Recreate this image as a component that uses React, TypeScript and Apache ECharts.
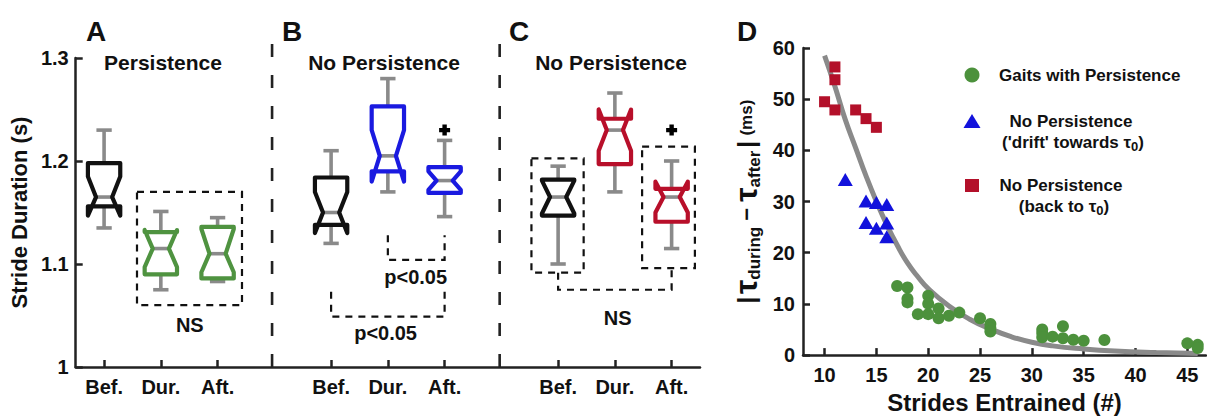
import React, { useEffect, useRef } from 'react';
import * as echarts from 'echarts';

// ---------- Panels A-C: notched box plots ----------
const xTickLabels = ['Bef.', 'Dur.', 'Aft.', 'Bef.', 'Dur.', 'Aft.', 'Bef.', 'Dur.', 'Aft.'];
const boxPositions = [0, 1, 2, 4, 5, 6, 8, 9, 10];
const boxLow = [1.135, 1.075, 1.083, 1.12, 1.17, 1.146, 1.1, 1.17, 1.115];
const boxQ1 = [1.156, 1.09, 1.086, 1.138, 1.19, 1.169, 1.147, 1.197, 1.141];
const boxNotchLow = [1.147, 1.097, 1.092, 1.13, 1.18, 1.172, 1.149, 1.21, 1.15];
const boxMedian = [1.165, 1.115, 1.11, 1.15, 1.205, 1.181, 1.165, 1.23, 1.165];
const boxNotchHigh = [1.185, 1.133, 1.134, 1.17, 1.23, 1.19, 1.181, 1.25, 1.18];
const boxQ3 = [1.198, 1.131, 1.136, 1.184, 1.253, 1.194, 1.182, 1.241, 1.173];
const boxHigh = [1.23, 1.151, 1.145, 1.21, 1.28, 1.22, 1.195, 1.266, 1.2];
const boxColors = ['#111111', '#4f9340', '#4f9340', '#111111', '#1a1ae0', '#1a1ae0', '#111111', '#b80f2a', '#b80f2a'];
const outlierX = [6, 10];
const outlierY = [1.23, 1.23];

// annotations (data coordinates)
const nsBoxes = [
  [0.58, 2.43, 1.06, 1.17],
  [7.53, 8.45, 1.0916, 1.2025],
  [9.48, 10.41, 1.096, 1.214],
];
const brackets = [
  [5, 6, 1.128, 1.128, 1.104],
  [4, 6, 1.073, 1.073, 1.049],
  [8, 10, 1.0916, 1.096, 1.075],
];
const separatorX = [2.96, 6.97];
const noteText = ['NS', 'p<0.05', 'p<0.05', 'NS'];
const noteX = [1.51, 5.49, 4.96, 9.05];
const noteY = [1.041, 1.087, 1.033, 1.048];

// ---------- Panel D: scatter ----------
const greenX = [17, 18, 18, 18, 20, 20, 19, 20, 21, 21, 22, 23, 25, 26, 26, 26, 31, 31, 31, 32, 33, 33, 34, 35, 37, 45, 46, 46];
const greenY = [13.5, 13.2, 11.0, 10.3, 11.6, 10.05, 8.0, 8.0, 9.1, 7.2, 7.7, 8.3, 7.2, 6.1, 5.3, 4.6, 5.0, 4.3, 3.5, 3.6, 5.65, 3.3, 3.0, 2.8, 2.95, 2.3, 2.0, 1.4];
const blueX = [12, 14, 15, 16, 14, 15, 16, 16];
const blueY = [34.3, 30.1, 29.8, 29.4, 25.9, 24.8, 25.8, 23.1];
const redX = [11, 11, 10, 11, 13, 14, 15];
const redY = [56.3, 53.8, 49.5, 47.9, 47.9, 46.2, 44.5];
const fitX = [10, 11, 12, 13, 14, 15, 16, 17, 18, 19, 20, 22, 24, 26, 28, 30, 32, 35, 38, 42, 46];
const fitY = [58.5, 52.5, 46, 40.5, 35, 30, 25.5, 21.5, 18, 15.3, 13, 9.6, 7.0, 5.1, 3.6, 2.5, 1.8, 1.2, 0.8, 0.5, 0.3];
const dXTicks = [10, 15, 20, 25, 30, 35, 40, 45];

const FONT = '"Liberation Sans", Arial, Helvetica, sans-serif';
const INK = '#111111';
const AXIS = '#222222';
const WHISKER = '#8a8a8a';
const GREEN = '#4c913c';
const BLUE = '#1212dc';
const RED = '#b3102a';
const BOX_WIDTH = 0.57;
const CAP_WIDTH = 0.27;

const pairs = (xs: number[], ys: number[]) => xs.map((x, i) => [x, ys[i]]);

const renderBox = (params: any, api: any) => {
  const i = params.dataIndex;
  const x = api.value(0);
  const y = (k: number) => api.coord([x, api.value(k)])[1];
  const cx = api.coord([x, api.value(4)])[0];
  const yLo = y(1), yQ1 = y(2), yNl = y(3), yMed = y(4), yNh = y(5), yQ3 = y(6), yHi = y(7);
  const half = api.size([BOX_WIDTH, 0])[0] / 2;
  const cap = api.size([CAP_WIDTH, 0])[0] / 2;
  const ind = half / 2;
  const L = cx - half, R = cx + half;
  const ws = { stroke: WHISKER, lineWidth: 3.6 };
  const color = boxColors[i];
  return {
    type: 'group',
    children: [
      { type: 'line', shape: { x1: cx, y1: yHi, x2: cx, y2: yQ3 }, style: ws },
      { type: 'line', shape: { x1: cx, y1: yQ1, x2: cx, y2: yLo }, style: ws },
      { type: 'line', shape: { x1: cx - cap, y1: yHi, x2: cx + cap, y2: yHi }, style: ws },
      { type: 'line', shape: { x1: cx - cap, y1: yLo, x2: cx + cap, y2: yLo }, style: ws },
      { type: 'line', shape: { x1: L + ind, y1: yMed, x2: R - ind, y2: yMed }, style: ws },
      {
        type: 'polygon',
        shape: {
          points: [
            [L, yQ3], [R, yQ3], [R, yNh], [R - ind, yMed], [R, yNl], [R, yQ1],
            [L, yQ1], [L, yNl], [L + ind, yMed], [L, yNh],
          ],
        },
        style: { fill: 'none', stroke: color, lineWidth: 4.2, lineJoin: 'round' },
      },
    ],
  };
};

const renderNotes = (params: any, api: any) => {
  const c = (x: number, y: number) => api.coord([x, y]);
  const dash = { stroke: INK, lineWidth: 2.2, lineDash: [7, 6], fill: 'none' };
  const children: any[] = [];
  nsBoxes.forEach(([x0, x1, y0, y1]) => {
    const p0 = c(x0, y1), p1 = c(x1, y0);
    children.push({
      type: 'polygon',
      shape: { points: [[p0[0], p0[1]], [p1[0], p0[1]], [p1[0], p1[1]], [p0[0], p1[1]]] },
      style: dash,
    });
  });
  brackets.forEach(([x0, x1, yt0, yt1, yb]) => {
    children.push({
      type: 'polyline',
      shape: { points: [c(x0, yt0), c(x0, yb), c(x1, yb), c(x1, yt1)] },
      style: dash,
    });
  });
  separatorX.forEach((sx) => {
    const a = c(sx, 1.0), b = c(sx, 1.3146);
    children.push({
      type: 'line',
      shape: { x1: a[0], y1: a[1], x2: b[0], y2: b[1] },
      style: { stroke: '#222', lineWidth: 2.6, lineDash: [13, 18] },
    });
  });
  noteText.forEach((t, i) => {
    const p = c(noteX[i], noteY[i]);
    children.push({
      type: 'text',
      x: p[0],
      y: p[1],
      style: {
        text: t, fill: INK, fontSize: 20, fontWeight: 'bold', fontFamily: FONT,
        align: 'center', verticalAlign: 'middle', textAlign: 'center', textVerticalAlign: 'middle',
      },
    });
  });
  return { type: 'group', children };
};

const txt = (text: string, x: number, y: number, size: number, align = 'center', extra: any = {}) => ({
  type: 'text',
  x,
  y,
  style: {
    text, fill: INK, fontSize: size, fontWeight: 'bold', fontFamily: FONT,
    align, verticalAlign: 'middle', textAlign: align, textVerticalAlign: 'middle', ...extra,
  },
});

const subRich = {
  n: { fontSize: 17, fontWeight: 'bold', fontFamily: FONT, fill: INK, color: INK, lineHeight: 21 },
  s: { fontSize: 13, fontWeight: 'bold', fontFamily: FONT, fill: INK, color: INK, lineHeight: 8, verticalAlign: 'bottom' },
};

const option: any = {
  animation: false,
  textStyle: { fontFamily: FONT },
  grid: [
    { left: 70, top: 58, width: 630, height: 309 },
    { left: 803, top: 48, width: 403, height: 319 },
  ],
  xAxis: [
    {
      type: 'value', gridIndex: 0, min: -0.5, max: 10.5,
      splitLine: { show: false },
      axisLine: { onZero: false, lineStyle: { color: AXIS, width: 2.5 } },
      axisTick: { inside: true, length: 7, customValues: boxPositions, lineStyle: { color: AXIS, width: 2.5 } },
      axisLabel: {
        customValues: boxPositions,
        formatter: (v: number) => xTickLabels[boxPositions.indexOf(v)] ?? '',
        fontSize: 20, fontWeight: 'bold', color: INK, margin: 10, fontFamily: FONT,
      },
    },
    {
      type: 'value', gridIndex: 1, min: 7.92, max: 46.8,
      splitLine: { show: false },
      axisLine: { onZero: false, lineStyle: { color: AXIS, width: 2.5 } },
      axisTick: { inside: true, length: 7, customValues: dXTicks, lineStyle: { color: AXIS, width: 2.5 } },
      axisLabel: { customValues: dXTicks, fontSize: 20, fontWeight: 'bold', color: INK, margin: 10, fontFamily: FONT },
      name: 'Strides Entrained (#)', nameLocation: 'middle', nameGap: 31,
      nameTextStyle: { fontSize: 24, fontWeight: 'bold', color: INK, fontFamily: FONT },
    },
  ],
  yAxis: [
    {
      type: 'value', gridIndex: 0, min: 1, max: 1.3, interval: 0.1,
      splitLine: { show: false },
      axisLine: { onZero: false, lineStyle: { color: AXIS, width: 2.5 } },
      axisTick: { inside: true, length: 7, lineStyle: { color: AXIS, width: 2.5 } },
      axisLabel: {
        formatter: (v: number) => (Math.abs(v - 1) < 1e-9 ? '1' : v.toFixed(1)),
        fontSize: 20, fontWeight: 'bold', color: INK, margin: 7, fontFamily: FONT,
      },
      name: 'Stride Duration (s)', nameLocation: 'middle', nameGap: 38,
      nameTextStyle: { fontSize: 22, fontWeight: 'bold', color: INK, fontFamily: FONT },
    },
    {
      type: 'value', gridIndex: 1, min: 0, max: 60, interval: 10,
      splitLine: { show: false },
      axisLine: { onZero: false, lineStyle: { color: AXIS, width: 2.5 } },
      axisTick: { inside: true, length: 7, lineStyle: { color: AXIS, width: 2.5 } },
      axisLabel: { fontSize: 20, fontWeight: 'bold', color: INK, margin: 8, fontFamily: FONT },
      name: '{bar||}{sp| }{tau|τ}{sub|during}{minus| − }{tau|τ}{sub|after}{sp| }{bar||}{sp|  }{ms|(ms)}',
      nameLocation: 'middle', nameGap: 40,
      nameTextStyle: {
        color: INK, fontFamily: FONT,
        rich: {
          bar: { fontSize: 24, fontWeight: 'bold', lineHeight: 34, color: INK, fontFamily: FONT },
          sp: { fontSize: 10, lineHeight: 34 },
          tau: { fontSize: 32, fontWeight: 'bold', lineHeight: 34, color: INK, fontFamily: FONT },
          sub: { fontSize: 17, fontWeight: 'bold', lineHeight: 14, verticalAlign: 'bottom', color: INK, fontFamily: FONT },
          minus: { fontSize: 22, fontWeight: 'bold', lineHeight: 34, color: INK, fontFamily: FONT },
          ms: { fontSize: 17, fontWeight: 'bold', lineHeight: 34, color: INK, fontFamily: FONT },
        },
      },
    },
  ],
  series: [
    {
      type: 'custom', name: 'Stride duration', xAxisIndex: 0, yAxisIndex: 0,
      data: boxPositions.map((p, i) => [p, boxLow[i], boxQ1[i], boxNotchLow[i], boxMedian[i], boxNotchHigh[i], boxQ3[i], boxHigh[i]]),
      encode: { x: 0, y: [1, 2, 3, 4, 5, 6, 7] },
      renderItem: renderBox,
      z: 3,
    },
    {
      type: 'scatter', name: 'Outliers', xAxisIndex: 0, yAxisIndex: 0,
      data: pairs(outlierX, outlierY),
      symbol: 'path://M3,0H7V3H10V7H7V10H3V7H0V3H3Z', symbolSize: 11,
      itemStyle: { color: '#000000', opacity: 1 },
      z: 4,
    },
    {
      type: 'custom', name: 'Annotations', xAxisIndex: 0, yAxisIndex: 0,
      data: [[0, 1.1]],
      encode: { x: 0, y: 1 },
      renderItem: renderNotes,
      silent: true,
      z: 2,
    },
    {
      type: 'line', name: 'Fit', xAxisIndex: 1, yAxisIndex: 1,
      data: pairs(fitX, fitY), smooth: true, symbol: 'none',
      lineStyle: { color: '#8a8a8a', width: 5 },
      z: 1,
    },
    {
      type: 'scatter', name: 'Gaits with Persistence', xAxisIndex: 1, yAxisIndex: 1,
      data: pairs(greenX, greenY), symbol: 'circle', symbolSize: 12,
      itemStyle: { color: GREEN, opacity: 1 }, z: 3,
    },
    {
      type: 'scatter', name: "No Persistence ('drift' towards τ0)", xAxisIndex: 1, yAxisIndex: 1,
      data: pairs(blueX, blueY), symbol: 'triangle', symbolSize: [15, 13],
      itemStyle: { color: BLUE, opacity: 1 }, z: 3,
    },
    {
      type: 'scatter', name: 'No Persistence (back to τ0)', xAxisIndex: 1, yAxisIndex: 1,
      data: pairs(redX, redY), symbol: 'rect', symbolSize: 11,
      itemStyle: { color: RED, opacity: 1 }, z: 3,
    },
  ],
  graphic: [
    txt('A', 96, 31, 28),
    txt('B', 292, 31, 28),
    txt('C', 519, 31, 28),
    txt('D', 747, 31, 28),
    txt('Persistence', 163, 62, 21),
    txt('No Persistence', 384, 62, 21),
    txt('No Persistence', 611, 62, 21),
    // legend of panel D
    { type: 'circle', shape: { cx: 972, cy: 75, r: 7.5 }, style: { fill: GREEN } },
    txt('Gaits with Persistence', 999, 75, 17, 'left'),
    { type: 'polygon', shape: { points: [[972, 114], [980.5, 128], [963.5, 128]] }, style: { fill: BLUE } },
    txt('No Persistence', 1071, 121, 17),
    txt("{n|('drift' towards τ}{s|0}{n|)}", 1073, 142, 17, 'center', { rich: subRich }),
    { type: 'rect', shape: { x: 965, y: 179, width: 14, height: 13 }, style: { fill: RED } },
    txt('No Persistence', 1061, 185, 17),
    txt('{n|(back to τ}{s|0}{n|)}', 1064, 206, 17, 'center', { rich: subRich }),
  ],
};

export default function App() {
  const ref = useRef<HTMLDivElement>(null);
  useEffect(() => {
    const chart = echarts.init(ref.current!, undefined, { renderer: 'svg' });
    chart.setOption(option);
    return () => chart.dispose();
  }, []);
  return (
    <div
      ref={ref}
      style={{ position: 'fixed', left: 0, top: 0, width: 1207, height: 419, background: '#ffffff' }}
    />
  );
}
